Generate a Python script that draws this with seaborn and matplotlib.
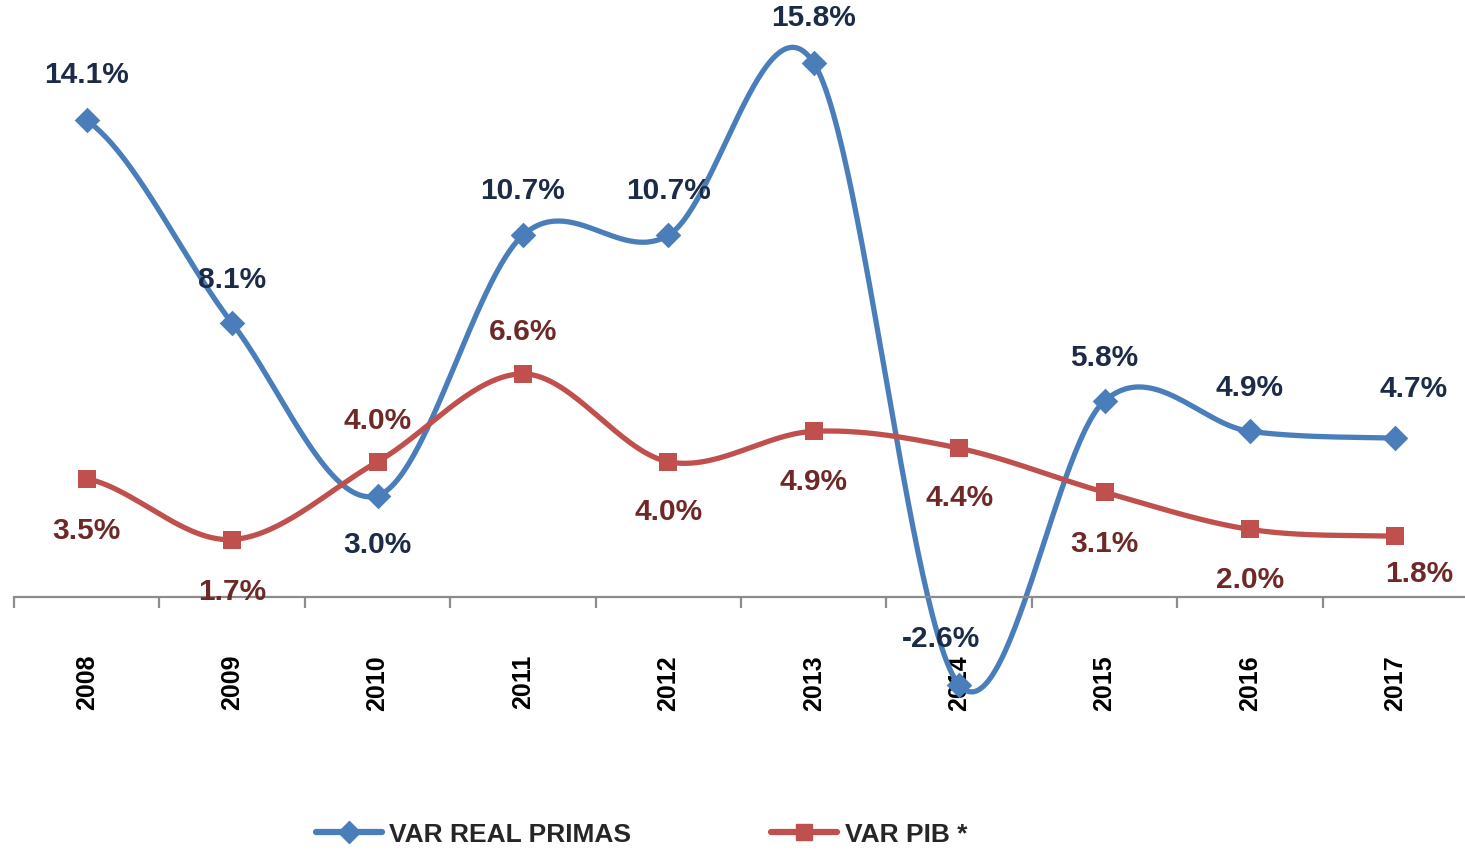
import numpy as np
import pandas as pd
import matplotlib
matplotlib.use("Agg")
import matplotlib.pyplot as plt
from matplotlib.lines import Line2D
import seaborn as sns

# data
years = ["2008", "2009", "2010", "2011", "2012", "2013", "2014", "2015", "2016", "2017"]
var_real_primas = [14.1, 8.1, 3.0, 10.7, 10.7, 15.8, -2.6, 5.8, 4.9, 4.7]
var_pib = [3.5, 1.7, 4.0, 6.6, 4.0, 4.9, 4.4, 3.1, 2.0, 1.8]

BLUE = "#4A7EBB"
RED = "#C0504D"
BLUE_TXT = "#1C2B48"
RED_TXT = "#6E2927"


def smooth_curve(vals, n=60):
    """Excel-like smoothed line (Catmull-Rom as cubic bezier)."""
    y = np.asarray(vals, dtype=float)
    xs, ys = [], []
    last = len(y) - 2
    for i in range(len(y) - 1):
        p0 = y[i - 1] if i > 0 else y[i]
        p3 = y[i + 2] if i + 2 < len(y) else y[i + 1]
        c1 = y[i] + (y[i + 1] - p0) / 6
        c2 = y[i + 1] - (p3 - y[i]) / 6
        t = np.linspace(0, 1, n, endpoint=(i == last))
        seg = (1 - t) ** 3 * y[i] + 3 * (1 - t) ** 2 * t * c1 + 3 * (1 - t) * t ** 2 * c2 + t ** 3 * y[i + 1]
        xs.append(i + t)
        ys.append(seg)
    return np.concatenate(xs), np.concatenate(ys)


sns.set_theme(style="white")
plt.rcParams["font.family"] = ["Liberation Sans Narrow", "Liberation Sans", "DejaVu Sans"]
plt.rcParams["font.weight"] = "bold"

fig = plt.figure(figsize=(14.65, 8.54), dpi=100)
ax = fig.add_axes([14 / 1465, 0.1569, 1454 / 1465, 0.8431])

# smoothed lines
frames = []
for name, vals in [("VAR REAL PRIMAS", var_real_primas), ("VAR PIB *", var_pib)]:
    cx, cy = smooth_curve(vals)
    frames.append(pd.DataFrame({"x": cx, "y": cy, "serie": name}))
curves = pd.concat(frames, ignore_index=True)
sns.lineplot(data=curves, x="x", y="y", hue="serie", palette=[BLUE, RED],
             sort=False, estimator=None, linewidth=3.8, legend=False, ax=ax)

# markers on actual points
pos = np.arange(len(years))
sns.scatterplot(x=pos, y=var_real_primas, marker="D", s=170, color=BLUE,
                edgecolor=BLUE, linewidth=0, zorder=4, ax=ax)
sns.scatterplot(x=pos, y=var_pib, marker="s", s=170, color=RED,
                edgecolor=RED, linewidth=0, zorder=4, ax=ax)

# data labels (offsets in pixels)
blue_off = [(0, 46), (0, 44), (0, -48), (0, 45), (0, 45), (0, 46), (-18, 47), (0, 44), (0, 44), (18, 50)]
red_off = [(0, -51), (0, -51), (0, 42), (0, 43), (0, -49), (0, -50), (0, -49), (0, -51), (0, -50), (24, -37)]
for i, v in enumerate(var_real_primas):
    ax.annotate(f"{v:.1f}%", (i, v), xytext=blue_off[i], textcoords="offset pixels",
                ha="center", va="center", fontsize=21.5, fontweight="bold", color=BLUE_TXT, zorder=5)
for i, v in enumerate(var_pib):
    ax.annotate(f"{v:.1f}%", (i, v), xytext=red_off[i], textcoords="offset pixels",
                ha="center", va="center", fontsize=21.5, fontweight="bold", color=RED_TXT, zorder=5)

# axes look: only a gray category axis at zero
ax.set_xlim(-0.5, 9.5)
ax.set_ylim(-3.61, 17.69)
for s in ["top", "right", "left"]:
    ax.spines[s].set_visible(False)
ax.spines["bottom"].set_position(("data", 0))
ax.spines["bottom"].set_color("#8C8C8C")
ax.spines["bottom"].set_linewidth(1.6)
ax.set_yticks([])
ax.set_xticks(np.arange(-0.5, 10, 1.0))
ax.set_xticklabels([])
ax.tick_params(axis="x", which="major", direction="out", length=8, width=1.6,
               color="#8C8C8C", bottom=True)
ax.set_xticks(pos, minor=True)
ax.set_xticklabels(years, minor=True, rotation=90, fontsize=18, fontweight="bold", color="black")
ax.tick_params(axis="x", which="minor", length=0, pad=41)
ax.set_xlabel("")
ax.set_ylabel("")
ax.patch.set_alpha(0)

handles = [
    Line2D([], [], color=BLUE, lw=4.5, marker="D", ms=11),
    Line2D([], [], color=RED, lw=4.5, marker="s", ms=12),
]
fig.legend(handles, ["VAR REAL PRIMAS", "VAR PIB *"], loc="center",
           bbox_to_anchor=(0.438, 0.022), ncol=2, frameon=False,
           prop={"size": 19, "weight": "bold"}, handlelength=2.5,
           handletextpad=0.3, columnspacing=5.3)

fig.savefig("out.png", dpi=100)
